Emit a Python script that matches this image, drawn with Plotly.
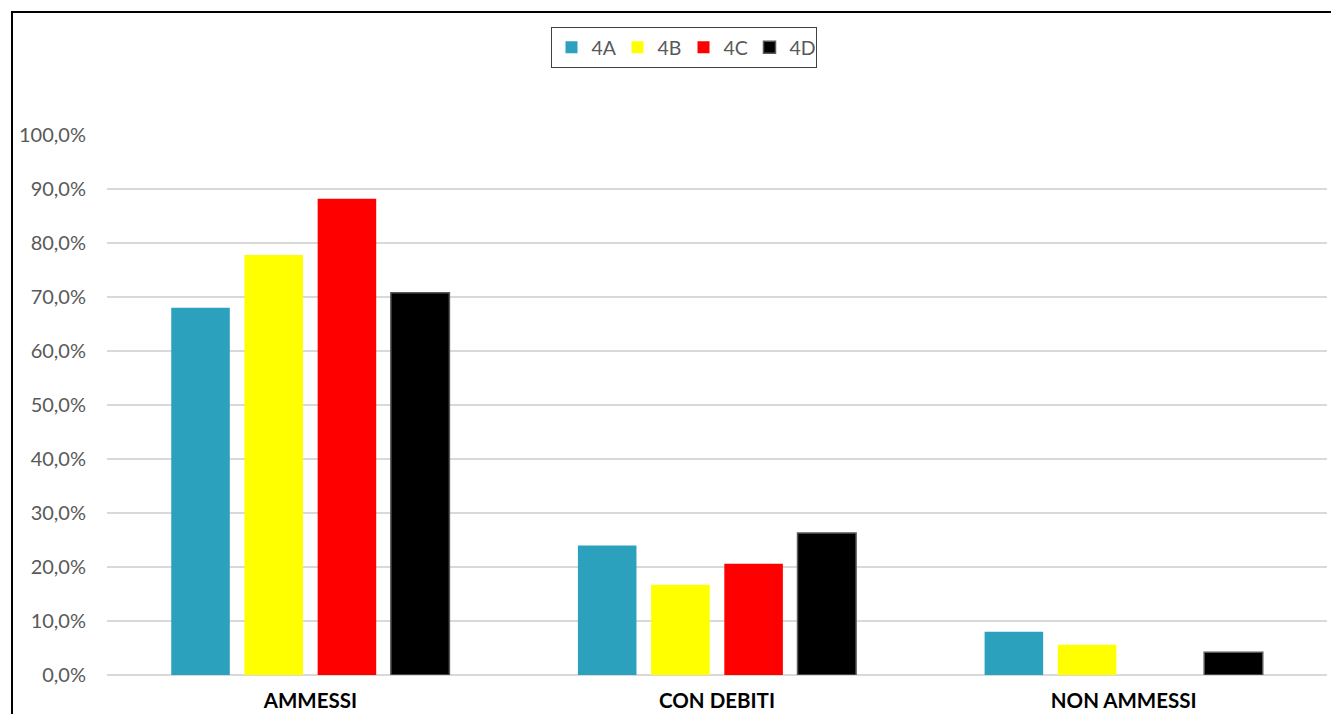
import plotly.graph_objects as go

categories = ["AMMESSI", "CON DEBITI", "NON AMMESSI"]
classes = ["4A", "4B", "4C", "4D"]
values = {
    "4A": [0.680, 0.240, 0.080],
    "4B": [0.778, 0.167, 0.056],
    "4C": [0.882, 0.206, 0.0],
    "4D": [0.708, 0.263, 0.042],
}
colors = {"4A": "#2ca1be", "4B": "#ffff00", "4C": "#ff0000", "4D": "#000000"}

# page body has an 8px margin, so the figure is a bit smaller than the window
W, H = 1323, 706
ml, mr, mt, mb = 99, 4, 127, 39
pw, ph = W - ml - mr, H - mt - mb

fig = go.Figure()
for c in classes:
    fig.add_trace(go.Bar(
        x=categories, y=values[c], name=c,
        marker=dict(color=colors[c],
                    line=dict(color="#595959" if c == "4D" else colors[c],
                              width=1.5 if c == "4D" else 0)),
    ))

# outer chart frame (right and bottom edges fall outside the window)
fig.add_shape(type="rect", xref="paper", yref="paper",
              x0=(4 - ml) / pw, x1=(W + 30 - ml) / pw,
              y0=(H - mb - (H + 30)) / ph, y1=(H - mb - 4) / ph,
              line=dict(color="black", width=2), fillcolor="rgba(0,0,0,0)")

fig.update_layout(
    width=W, height=H,
    margin=dict(l=ml, r=mr, t=mt, b=mb, autoexpand=False),
    paper_bgcolor="white", plot_bgcolor="white",
    barmode="group", bargap=0.28, bargroupgap=0.2,
    separators=",.",
    font=dict(family="Lato, Liberation Sans, sans-serif", size=18, color="#595959"),
    showlegend=True,
    legend=dict(orientation="h", x=(675.5 - ml) / pw, xanchor="center",
                y=(H - mb - 19) / ph, yanchor="top",
                bordercolor="#404040", borderwidth=1, bgcolor="white",
                font=dict(size=19.5, color="#595959"), entrywidth=21,
                traceorder="normal"),
)
fig.update_yaxes(range=[0, 1.0], dtick=0.1, tickformat=".1%",
                 showgrid=True, gridcolor="#d9d9d9", gridwidth=1.5,
                 zeroline=True, zerolinecolor="#d9d9d9", zerolinewidth=1.5,
                 ticks="", ticklabelstandoff=20, showline=False, automargin=False,
                 tickfont=dict(size=20, color="#595959"))
fig.update_xaxes(showline=False, ticks="", ticklabelstandoff=11, automargin=False,
                 tickfont=dict(size=20.5, color="black",
                               family="Lato, Liberation Sans, sans-serif",
                               weight="bold"))

fig.write_html("out.html")
